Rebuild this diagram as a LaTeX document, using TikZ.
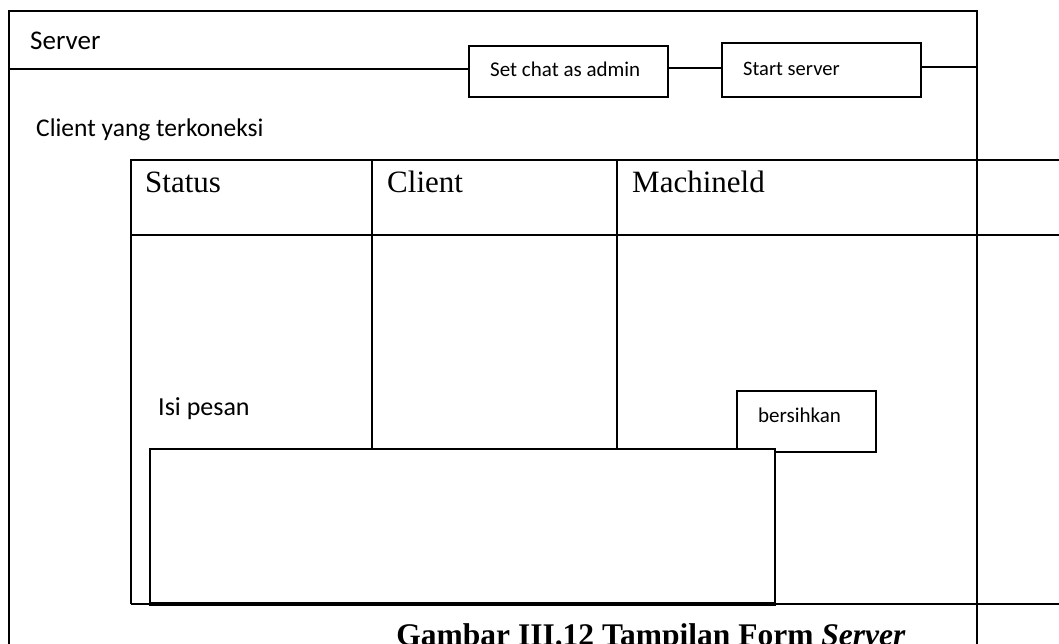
\documentclass[tikz,border=0pt]{standalone}
\usepackage{fontspec}
\setmainfont{Liberation Serif}
\newfontfamily\uifont{Carlito}
\begin{document}
\begin{tikzpicture}[x=1pt,y=-1pt,
  box/.style={draw=black, line width=1.5pt, fill=white, inner sep=0pt},
  ui/.style={inner sep=0pt, anchor=base west, font=\uifont},
  hdr/.style={inner sep=0pt, anchor=base west, font=\fontsize{31}{31}\selectfont},
  rule/.style={line width=1.8pt},
  wire/.style={line width=1.5pt}]
\useasboundingbox (0,0) rectangle (1059,644);
\clip (0,0) rectangle (1059,644);

% window frame (open at the bottom)
\coordinate (fBL) at (9,650);
\coordinate (fTL) at (9,11);
\coordinate (fTR) at (977,11);
\coordinate (fBR) at (977,650);
\coordinate (barY) at (0,69);
\coordinate (btnY) at (0,68);
\coordinate (btnY2) at (0,67);

% toolbar buttons
\node[box, minimum width=199pt, minimum height=51pt] (setchat) at (568.5,71.5) {};
\node[box, minimum width=199pt, minimum height=54pt] (startsrv) at (821.5,70) {};

\draw[wire] (fBL) -- (fTL) -- (fTR) -- (fBR);
\draw[wire] (fTL |- barY) -- (setchat.west |- barY);
\draw[wire] (setchat.east |- btnY) -- (startsrv.west |- btnY);
\draw[wire] (startsrv.east |- btnY2) -- (fTR |- btnY2);

\node[ui, font=\uifont\fontsize{27}{27}\selectfont] (title) at (30,50) {Server};
\node[ui, font=\uifont\fontsize{21}{21}\selectfont] (setchatlbl) at (490,77) {Set chat as admin};
\node[ui, font=\uifont\fontsize{20.5}{20.5}\selectfont] (startlbl) at (743,76) {Start server};
\node[ui, font=\uifont\fontsize{25.5}{25.5}\selectfont] (clients) at (36,137) {Client yang terkoneksi};

% client table
\coordinate (tTL) at (131,160);
\coordinate (tTR) at (1059,160);
\coordinate (tHL) at (131,235);
\coordinate (tHR) at (1059,235);
\coordinate (tBL) at (131,604);
\coordinate (tBR) at (1059,604);
\coordinate (c1) at (372,160);
\coordinate (c2) at (617,160);

\draw[rule] (tBL) -- (tTL) -- (tTR);
\draw[rule] (tHL) -- (tHR);
\draw[rule] (tBL) -- (tBR);

\node[hdr] (hStatus) at (145,193) {Status};
\node[hdr] (hClient) at (387,193) {Client};
\node[hdr] (hMachine) at (632,193) {Machineld};

\node[ui, font=\uifont\fontsize{26}{26}\selectfont] (isi) at (158,415) {Isi pesan};

% clear button and message box
\node[box, minimum width=139pt, minimum height=61pt] (bersih) at (806.5,421.5) {};
\node[ui, font=\uifont\fontsize{21}{21}\selectfont] (bersihlbl) at (758,422) {bersihkan};

\node[box, minimum width=625pt, minimum height=154pt] (msg) at (462.5,526) {};
\draw[rule] (c1) -- (c1 |- msg.north);
\draw[rule] (c2) -- (c2 |- msg.north);
\draw[line width=4pt] (msg.south west) -- (msg.south east);

% caption
\node[inner sep=0pt, anchor=base, font=\bfseries\fontsize{31.5}{31.5}\selectfont] (cap) at (651,645) {Gambar III.12 Tampilan Form \textit{Server}};
\end{tikzpicture}
\end{document}
